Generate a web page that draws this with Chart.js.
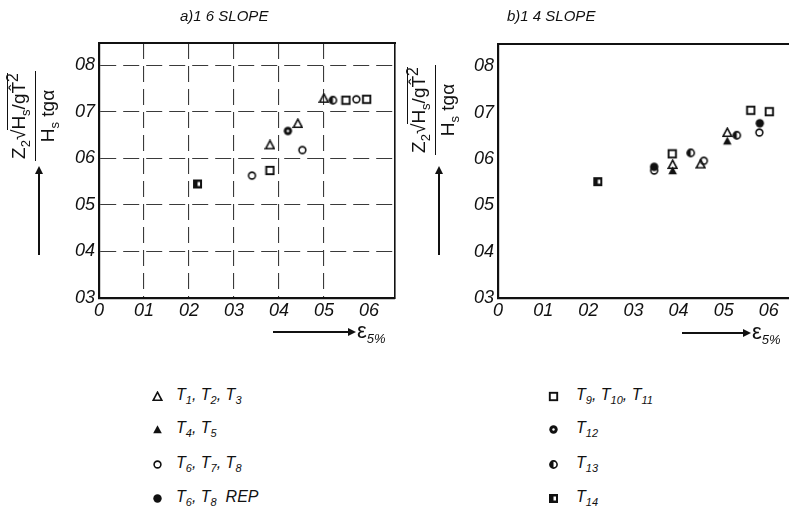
<!DOCTYPE html>
<html>
<head>
<meta charset="utf-8">
<script src="https://cdn.jsdelivr.net/npm/chart.js@4.4.1/dist/chart.umd.min.js"></script>
<style>
  body { margin: 0; width: 789px; height: 514px; overflow: hidden; background: #fff; position: relative; color: #111; }
  canvas { position: absolute; top: 0; }
  .title { position: absolute; top: 7px; font: italic 15px 'Liberation Sans', sans-serif; white-space: pre; }
  .ytitle { position: absolute; width: 124px; height: 58px; transform: rotate(-90deg);
            font: 19px 'Liberation Sans', sans-serif; display: flex; flex-direction: column; align-items: center; }
  .ytitle .num { border-bottom: 1.6px solid #111; padding: 0 2px 2px 2px; white-space: nowrap; }
  .ytitle .rad { border-top: 1.6px solid #111; }
  .ytitle .den { padding-top: 1px; white-space: nowrap; }
  .ytitle sub { font-size: 13px; }
  .uparrow { position: absolute; width: 2px; background: #111; }
  .uparrow:before { content: ''; position: absolute; left: -3px; top: -7px; border: 4px solid transparent; border-bottom: 8px solid #111; border-top: 0; }
  .xarrow { position: absolute; height: 2px; background: #111; }
  .xarrow:after { content: ''; position: absolute; right: -7px; top: -3px; border: 4px solid transparent; border-left: 8px solid #111; border-right: 0; }
  .xlabel { position: absolute; font: 22px 'Liberation Sans', sans-serif; }
  .xlabel sub { font: italic 13px 'Liberation Sans', sans-serif; }
  .legend-row { position: absolute; font: italic 16px 'Liberation Sans', sans-serif; white-space: nowrap; }
  .legend-row img { position: absolute; left: 0; top: 5px; }
  .legend-row span { position: absolute; left: 24px; top: 0; }
  .legend-row sub { font-size: 11px; }
</style>
</head>
<body>
<canvas id="slope6" width="420" height="340" style="left:0"></canvas>
<canvas id="slope4" width="400" height="340" style="left:400px"></canvas>

<div class="title" style="left:180px">a)1 6 SLOPE</div>
<div class="title" style="left:507px">b)1 4 SLOPE</div>

<div class="ytitle" style="left:-29px; top:87px">
  <div class="num">Z<sub>2</sub>√<span class="rad">H<sub>s</sub>/gT̂<sup>2</sup></span></div>
  <div class="den">H<sub>s</sub> tgα</div>
</div>
<div class="ytitle" style="left:371px; top:81px">
  <div class="num">Z<sub>2</sub>√<span class="rad">H<sub>s</sub>/gT̂<sup>2</sup></span></div>
  <div class="den">H<sub>s</sub> tgα</div>
</div>
<div class="uparrow" style="left:38px; top:173px; height:82px"></div>
<div class="uparrow" style="left:438px; top:173px; height:82px"></div>

<div class="xarrow" style="left:273px; top:331px; width:76px"></div>
<div class="xlabel" style="left:357px; top:318px">ε<sub>5%</sub></div>
<div class="xarrow" style="left:682px; top:332px; width:62px"></div>
<div class="xlabel" style="left:752px; top:319px">ε<sub>5%</sub></div>

<div id="legend"></div>

<script>
// series names (legend), same for both panels
const seriesNames = ['T1, T2, T3', 'T4, T5', 'T6, T7, T8', 'T6, T8  REP', 'T9, T10, T11', 'T12', 'T13', 'T14'];
const markerKinds = ['triOpen', 'triFilled', 'circOpen', 'circFilled', 'sqOpen', 'circDot', 'circHalf', 'sqHalf'];

// a) slope 1:6  - eps 5% and dimensionless run-up, one list per series
const slope6Eps = [[0.38, 0.442, 0.50], [], [0.34, 0.452, 0.572], [], [0.38, 0.549, 0.595], [0.42], [0.52], [0.219]];
const slope6Z   = [[0.629, 0.675, 0.729], [], [0.563, 0.618, 0.727], [], [0.574, 0.725, 0.727], [0.659], [0.725], [0.545]];

// b) slope 1:4
const slope4Eps = [[0.387, 0.449, 0.508], [0.387, 0.508], [0.346, 0.456, 0.579], [0.346, 0.58], [0.386, 0.56, 0.601], [], [0.427, 0.529], [0.221]];
const slope4Z   = [[0.588, 0.589, 0.657], [0.575, 0.639], [0.575, 0.596, 0.657], [0.583, 0.677], [0.611, 0.705, 0.702], [], [0.613, 0.651], [0.551]];

// tick labels (decimal point is lost in the original print)
const xTicks = [0, 0.1, 0.2, 0.3, 0.4, 0.5, 0.6];
const yTicks = [0.3, 0.4, 0.5, 0.6, 0.7, 0.8];
const slope6GridX = [0.1, 0.2, 0.3, 0.4, 0.5];
const slope6GridY = [0.4, 0.5, 0.6, 0.7, 0.8];

function tickLabel(v) {
    return v === 0 ? '0' : '0' + Math.round(v * 10);
}

// small canvases used as point styles
function makeMarker(kind) {
    const c = document.createElement('canvas');
    c.width = 11; c.height = 11;
    const g = c.getContext('2d');
    g.strokeStyle = '#111';
    g.fillStyle = '#111';
    g.lineWidth = 1.6;
    if (kind === 'triOpen' || kind === 'triFilled') {
        g.beginPath();
        g.moveTo(5.5, 1.2); g.lineTo(9.8, 9.3); g.lineTo(1.2, 9.3); g.closePath();
        if (kind === 'triFilled') g.fill(); else g.stroke();
    } else if (kind === 'circOpen') {
        g.beginPath(); g.arc(5.5, 5.5, 3.4, 0, Math.PI * 2); g.stroke();
    } else if (kind === 'circFilled') {
        g.beginPath(); g.arc(5.5, 5.5, 4.2, 0, Math.PI * 2); g.fill();
    } else if (kind === 'circDot') {
        g.beginPath(); g.arc(5.5, 5.5, 4.2, 0, Math.PI * 2); g.fill();
        g.fillStyle = '#fff';
        g.beginPath(); g.arc(5.5, 5.5, 1.2, 0, Math.PI * 2); g.fill();
    } else if (kind === 'circHalf') {
        g.beginPath(); g.arc(5.5, 5.5, 3.6, 0, Math.PI * 2); g.stroke();
        g.beginPath(); g.arc(5.5, 5.5, 3.6, Math.PI / 2, Math.PI * 1.5); g.fill();
    } else if (kind === 'sqOpen') {
        g.lineWidth = 1.9;
        g.strokeRect(1.8, 1.8, 7.4, 7.4);
    } else if (kind === 'sqHalf') {
        g.fillRect(1, 1, 9, 9);
        g.fillStyle = '#fff';
        g.fillRect(5.5, 3.5, 2.5, 4);
    }
    return c;
}

const markers = markerKinds.map(makeMarker);

function makePanel(canvasId, epsList, zList, opts) {
    const datasets = seriesNames.map((name, k) => ({
        label: name,
        data: epsList[k].map((e, i) => ({ x: e, y: zList[k][i] })),
        pointStyle: markers[k],
        showLine: false
    }));

    const tickFont = { family: 'Liberation Sans', size: 18, style: 'italic' };
    const gridColor = (list) => (c) => {
        if (!c.tick) return 'rgba(0,0,0,0)';
        return list.some(g => Math.abs(g - c.tick.value) < 1e-6) ? '#3a3a3a' : 'rgba(0,0,0,0)';
    };

    const scales = {
        x: {
            type: 'linear', min: 0, max: 0.658,
            afterBuildTicks: s => { s.ticks = xTicks.map(v => ({ value: v })); },
            afterFit: s => { s.height = 24; },
            ticks: { callback: tickLabel, font: tickFont, color: '#111', padding: 2, maxRotation: 0 },
            grid: { display: opts.gridX.length > 0, drawTicks: false, color: gridColor(opts.gridX), lineWidth: 1.1 },
            border: { color: '#111', width: 2.2, dash: [16, 7] }
        },
        y: {
            type: 'linear', min: 0.3, max: 0.848,
            afterBuildTicks: s => { s.ticks = yTicks.map(v => ({ value: v })); },
            afterFit: s => { s.width = opts.yWidth; },
            ticks: { callback: tickLabel, font: tickFont, color: '#111', padding: 4 },
            grid: { display: opts.gridY.length > 0, drawTicks: false, color: gridColor(opts.gridY), lineWidth: 1.1 },
            border: { color: '#111', width: 2.2, dash: [16, 7] }
        },
        xTop: {
            type: 'linear', axis: 'x', position: 'top', min: 0, max: 0.658,
            afterFit: s => { s.height = 0; },
            ticks: { display: false },
            grid: { display: false },
            border: { color: '#111', width: 2 }
        }
    };
    if (opts.rightBorder) {
        scales.yRight = {
            type: 'linear', axis: 'y', position: 'right', min: 0.3, max: 0.848,
            afterFit: s => { s.width = 0; },
            ticks: { display: false },
            grid: { display: false },
            border: { color: '#111', width: 1.6 }
        };
    }

    return new Chart(document.getElementById(canvasId).getContext('2d'), {
        type: 'scatter',
        data: { datasets: datasets },
        options: {
            responsive: false,
            animation: false,
            layout: { padding: opts.padding },
            scales: scales,
            plugins: { legend: { display: false }, tooltip: { enabled: false } }
        }
    });
}

makePanel('slope6', slope6Eps, slope6Z, {
    gridX: slope6GridX, gridY: slope6GridY, yWidth: 99, rightBorder: true,
    padding: { top: 43, left: 0, right: 25, bottom: 18 }
});
makePanel('slope4', slope4Eps, slope4Z, {
    gridX: [], gridY: [], yWidth: 98, rightBorder: false,
    padding: { top: 44, left: 0, right: 5, bottom: 18 }
});

// legend: two columns, first four series left, rest right
const legend = document.getElementById('legend');
const rowTops = [386, 419, 454, 488];
seriesNames.forEach((name, k) => {
    const row = document.createElement('div');
    row.className = 'legend-row';
    const col = k < 4 ? 0 : 1;
    row.style.left = (col === 0 ? 152 : 548) + 'px';
    row.style.top = rowTops[k % 4] + 'px';
    const img = document.createElement('img');
    img.src = markers[k].toDataURL();
    const txt = document.createElement('span');
    txt.innerHTML = name.replace(/T(\d+)/g, 'T<sub>$1</sub>').replace(/  /g, '&nbsp;&nbsp;');
    if (col === 1) txt.style.left = '28px';
    row.appendChild(img);
    row.appendChild(txt);
    legend.appendChild(row);
});
</script>
</body>
</html>
